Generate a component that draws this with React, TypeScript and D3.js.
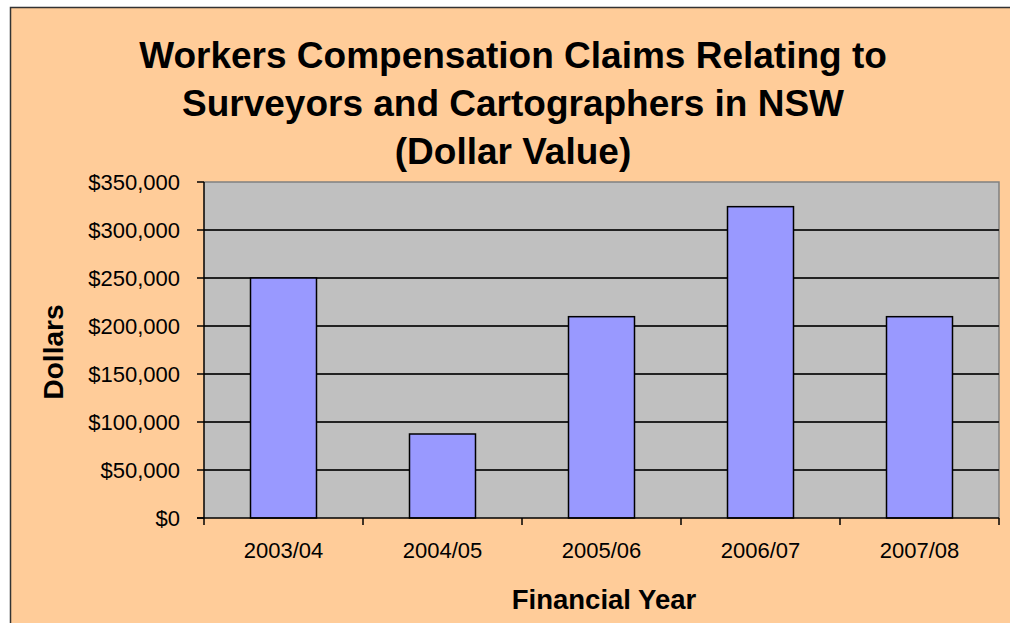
import * as d3 from "d3";

const years = ["2003/04", "2004/05", "2005/06", "2006/07", "2007/08"];
const claims = [250000, 87500, 209700, 324300, 209700];
const yTicks = [0, 50000, 100000, 150000, 200000, 250000, 300000, 350000];
const titleLines = [
  "Workers Compensation Claims Relating to",
  "Surveyors and Cartographers in NSW",
  "(Dollar Value)",
];

const W = 1010;
const H = 623;
const plot = { left: 204, right: 999, top: 182, bottom: 518 };
const font = "'Liberation Sans', Arial, sans-serif";

export default function App() {
  const x = d3.scaleBand().domain(years).range([plot.left, plot.right]).padding(0);
  const y = d3.scaleLinear().domain([0, 350000]).range([plot.bottom, plot.top]);
  const barW = x.bandwidth() * 0.415;
  const fmt = (v: number) => "$" + d3.format(",")(v);
  const boundaries = years.map((d) => x(d) as number).concat(plot.right);

  return (
    <div style={{ position: "fixed", left: 0, top: 0 }}>
      <svg width={W} height={H} style={{ display: "block" }} fontFamily={font}>
        <rect x={0} y={0} width={W} height={H} fill="#ffffff" />
        {/* chart area */}
        <rect x={10.5} y={7.5} width={W + 20} height={H + 20} fill="#ffcc99" stroke="#333" strokeWidth={1.5} />

        {/* title */}
        {titleLines.map((t, i) => (
          <text key={t} x={513} y={68 + i * 48} textAnchor="middle" fontSize={37} fontWeight="bold" fill="#000">
            {t}
          </text>
        ))}

        {/* plot area */}
        <rect x={plot.left} y={plot.top} width={plot.right - plot.left} height={plot.bottom - plot.top} fill="#c0c0c0" />
        <path
          d={`M${plot.left},${plot.top}H${plot.right}V${plot.bottom}`}
          fill="none"
          stroke="#808080"
          strokeWidth={1.5}
        />

        {/* gridlines */}
        {yTicks.slice(1, -1).map((v) => (
          <line
            key={v}
            x1={plot.left}
            x2={plot.right}
            y1={y(v)}
            y2={y(v)}
            stroke="#222"
            strokeWidth={1.5}
            shapeRendering="crispEdges"
          />
        ))}

        {/* bars */}
        {years.map((d, i) => {
          const cx = (x(d) as number) + x.bandwidth() / 2;
          return (
            <rect
              key={d}
              x={cx - barW / 2}
              y={y(claims[i])}
              width={barW}
              height={y(0) - y(claims[i])}
              fill="#9999ff"
              stroke="#000"
              strokeWidth={1.5}
            />
          );
        })}

        {/* y axis */}
        <line x1={plot.left} x2={plot.left} y1={plot.top} y2={plot.bottom} stroke="#000" strokeWidth={1.5} />
        {yTicks.map((v) => (
          <g key={v}>
            <line x1={plot.left - 7} x2={plot.left} y1={y(v)} y2={y(v)} stroke="#000" strokeWidth={1.5} />
            <text x={180} y={y(v)} dy="0.36em" textAnchor="end" fontSize={22} fill="#000">
              {fmt(v)}
            </text>
          </g>
        ))}

        {/* x axis */}
        <line x1={plot.left - 7} x2={plot.right} y1={plot.bottom} y2={plot.bottom} stroke="#000" strokeWidth={1.5} />
        {boundaries.map((bx, i) => (
          <line key={i} x1={bx} x2={bx} y1={plot.bottom} y2={plot.bottom + 7} stroke="#000" strokeWidth={1.5} />
        ))}
        {years.map((d) => (
          <text
            key={d}
            x={(x(d) as number) + x.bandwidth() / 2}
            y={558}
            textAnchor="middle"
            fontSize={22}
            fill="#000"
          >
            {d}
          </text>
        ))}

        {/* axis titles */}
        <text x={604} y={609} textAnchor="middle" fontSize={27.5} fontWeight="bold" fill="#000">
          Financial Year
        </text>
        <text
          transform={`translate(63,352) rotate(-90)`}
          textAnchor="middle"
          fontSize={28}
          fontWeight="bold"
          fill="#000"
        >
          Dollars
        </text>
      </svg>
    </div>
  );
}
